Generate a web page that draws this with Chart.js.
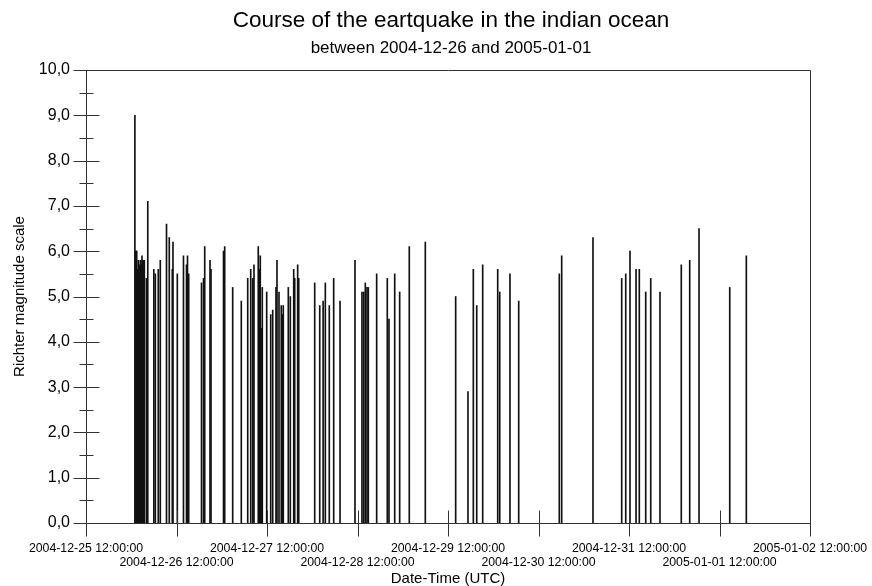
<!DOCTYPE html>
<html><head><meta charset="utf-8">
<script src="https://cdn.jsdelivr.net/npm/chart.js@4"></script>
<style>html,body{margin:0;padding:0;background:#fff}canvas{display:block}</style>
</head><body>
<canvas id="c" width="872" height="586"></canvas>
<script>
const chartTitle = 'Course of the eartquake in the indian ocean';
const chartSubtitle = 'between 2004-12-26 and 2005-01-01';
const xAxisTitle = 'Date-Time (UTC)';
const yAxisTitle = 'Richter magnitude scale';
const axisStart = '2004-12-25 12:00';
const axisEnd = '2005-01-02 12:00';
const yTickValues = [0,1,2,3,4,5,6,7,8,9,10];

const quakeTimes = [
'2004-12-26 00:58','2004-12-26 01:09','2004-12-26 01:16','2004-12-26 01:27','2004-12-26 01:35',
'2004-12-26 01:44','2004-12-26 01:52','2004-12-26 02:00','2004-12-26 02:08','2004-12-26 02:16',
'2004-12-26 02:24','2004-12-26 02:38','2004-12-26 02:45','2004-12-26 02:51','2004-12-26 03:02',
'2004-12-26 03:13','2004-12-26 03:20','2004-12-26 03:28',
'2004-12-26 04:01','2004-12-26 04:23','2004-12-26 05:59',
'2004-12-26 06:23','2004-12-26 07:10','2004-12-26 07:42','2004-12-26 09:21','2004-12-26 10:05',
'2004-12-26 10:53','2004-12-26 11:04','2004-12-26 12:13','2004-12-26 13:51','2004-12-26 14:39',
'2004-12-26 14:55','2004-12-26 15:14','2004-12-26 18:38','2004-12-26 19:10','2004-12-26 19:29',
'2004-12-26 20:53','2004-12-26 21:09','2004-12-27 00:28','2004-12-27 00:47','2004-12-27 02:54',
'2004-12-27 05:11','2004-12-27 06:53','2004-12-27 07:41','2004-12-27 08:13','2004-12-27 08:33',
'2004-12-27 09:41','2004-12-27 09:58','2004-12-27 10:13','2004-12-27 10:29','2004-12-27 10:45',
'2004-12-27 11:55','2004-12-27 12:59','2004-12-27 13:31','2004-12-27 14:23','2004-12-27 14:39',
'2004-12-27 15:11','2004-12-27 15:47','2004-12-27 16:04','2004-12-27 16:19','2004-12-27 17:39',
'2004-12-27 18:11','2004-12-27 19:05','2004-12-27 19:21','2004-12-27 20:08','2004-12-27 20:25',
'2004-12-28 00:39','2004-12-28 01:59','2004-12-28 02:53','2004-12-28 03:28','2004-12-28 04:31',
'2004-12-28 05:41','2004-12-28 07:22','2004-12-28 11:20','2004-12-28 13:11','2004-12-28 13:38',
'2004-12-28 14:04','2004-12-28 14:31','2004-12-28 14:52','2004-12-28 17:05','2004-12-28 19:54',
'2004-12-28 20:21','2004-12-28 21:52','2004-12-28 23:11','2004-12-29 01:44','2004-12-29 05:59',
'2004-12-29 14:02','2004-12-29 17:18','2004-12-29 18:43','2004-12-29 19:37','2004-12-29 21:12',
'2004-12-30 01:11','2004-12-30 01:43','2004-12-30 04:26','2004-12-30 06:45','2004-12-30 17:31',
'2004-12-30 18:09','2004-12-31 02:27','2004-12-31 10:04','2004-12-31 11:08','2004-12-31 12:16',
'2004-12-31 13:52','2004-12-31 14:44','2004-12-31 16:26','2004-12-31 17:46','2004-12-31 20:13',
'2005-01-01 01:52','2005-01-01 04:06','2005-01-01 06:34','2005-01-01 14:43','2005-01-01 19:07'
];
const magnitudes = [
9.0,6.0,6.0,6.0,5.3,
5.6,5.8,5.6,5.7,5.6,
5.8,5.7,5.6,5.9,5.8,
5.8,5.6,5.8,
5.4,7.1,5.6,
5.5,5.6,5.8,6.6,6.3,
5.6,6.2,5.5,5.9,5.7,
5.9,5.5,5.3,5.4,6.1,
5.8,5.6,6.0,6.1,5.2,
4.9,5.4,5.6,5.4,5.7,
6.1,5.6,5.9,4.3,5.2,
5.1,4.6,4.7,5.2,5.8,
5.1,4.8,4.6,4.8,5.2,
5.0,5.6,5.4,5.7,5.4,
5.3,4.8,4.9,5.3,4.8,
5.4,4.9,5.8,5.1,5.1,
5.3,5.2,5.2,5.5,5.4,
4.5,5.5,5.1,6.1,6.2,
5.0,2.9,5.6,4.8,5.7,
5.6,5.1,5.5,4.9,5.5,
5.9,6.3,5.4,5.5,6.0,
5.6,5.6,5.1,5.4,5.1,
5.7,5.8,6.5,5.2,5.9
];

function parseUTC(s){
  const [d,t] = s.split(' ');
  const [Y,M,D] = d.split('-').map(Number);
  const [h,m] = t.split(':').map(Number);
  return Date.UTC(Y, M-1, D, h, m);
}
const origin = parseUTC(axisStart);
const toHours = s => (parseUTC(s) - origin) / 3600000;
const pad2 = n => String(n).padStart(2,'0');
function fmtHours(h){
  const d = new Date(origin + h*3600000);
  return d.getUTCFullYear()+'-'+pad2(d.getUTCMonth()+1)+'-'+pad2(d.getUTCDate())+' '+
         pad2(d.getUTCHours())+':'+pad2(d.getUTCMinutes())+':'+pad2(d.getUTCSeconds());
}

const points = quakeTimes.map((t,i)=>({x: toHours(t), y: magnitudes[i]}));
const FONT = "'Liberation Sans', Helvetica, Arial, sans-serif";

const framePlugin = {
  id: 'frame',
  afterDraw(chart){
    const {ctx, chartArea:a, scales:{x, y}} = chart;
    const L = Math.round(a.left)+0.5, R = Math.round(a.right)+0.5;
    const T = Math.round(a.top)+0.5, B = Math.round(a.bottom)+0.5;
    ctx.save();
    ctx.strokeStyle = '#333';
    ctx.lineWidth = 1;
    ctx.beginPath();
    ctx.moveTo(L,T); ctx.lineTo(R,T); ctx.lineTo(R,B); ctx.lineTo(L,B); ctx.closePath();
    const yt = y.ticks.map(t=>t.value);
    yt.forEach((v,i)=>{
      const py = Math.round(y.getPixelForValue(v))+0.5;
      ctx.moveTo(L-13,py); ctx.lineTo(L+13,py);
      if (i < yt.length-1){
        const pm = Math.round(y.getPixelForValue((v+yt[i+1])/2))+0.5;
        ctx.moveTo(L-7,pm); ctx.lineTo(L+7,pm);
      }
    });
    x.ticks.forEach(t=>{
      const px = Math.round(x.getPixelForValue(t.value))+0.5;
      ctx.moveTo(px,B-13); ctx.lineTo(px,B+13);
    });
    ctx.stroke();
    // titles
    const cx = (a.left + a.right)/2 + 3;
    ctx.fillStyle = '#000';
    ctx.textAlign = 'center';
    ctx.textBaseline = 'middle';
    ctx.font = '22.5px ' + FONT;
    ctx.fillText(chartTitle, cx, 21);
    ctx.font = '17px ' + FONT;
    ctx.fillText(chartSubtitle, cx, 48);
    ctx.restore();
  }
};

new Chart(document.getElementById('c'), {
  type: 'bar',
  data: { datasets: [{
    data: points,
    backgroundColor: '#111',
    borderWidth: 0,
    barThickness: 1
  }]},
  options: {
    responsive: false,
    devicePixelRatio: 1,
    animation: false,
    events: [],
    layout: { padding: { top: 70, right: 62, left: 0, bottom: 0 } },
    plugins: { legend: {display:false}, tooltip: {enabled:false}, title:{display:false} },
    scales: {
      x: {
        type: 'linear',
        offset: false,
        min: toHours(axisStart),
        max: toHours(axisEnd),
        grid: { display: false, drawTicks: false },
        border: { display: false },
        ticks: {
          stepSize: 24,
          autoSkip: false,
          maxRotation: 0, minRotation: 0,
          padding: 18,
          color: '#000',
          font: { family: FONT, size: 12.3, lineHeight: 1.18 },
          callback: (v, i) => i % 2 === 0 ? fmtHours(v) : ['', fmtHours(v)]
        },
        title: { display: true, text: xAxisTitle, color: '#000',
                 font: { family: FONT, size: 15, lineHeight: 1 }, padding: 0 },
        afterFit: s => { s.height = 63; s.paddingLeft = 0; s.paddingRight = 0; }
      },
      y: {
        min: 0, max: 10,
        grid: { display: false, drawTicks: false },
        border: { display: false },
        afterBuildTicks: s => { s.ticks = yTickValues.map(v=>({value:v})); },
        ticks: {
          padding: 16,
          color: '#000',
          font: { family: FONT, size: 16 },
          callback: v => Number(v).toFixed(1).replace('.', ',')
        },
        title: { display: true, text: yAxisTitle, color: '#000',
                 font: { family: FONT, size: 15, lineHeight: 1.2 }, padding: { top: 11, bottom: 0 } },
        afterFit: s => { s.width = 86; s.paddingTop = 0; s.paddingBottom = 0; }
      }
    }
  },
  plugins: [framePlugin]
});
</script>
</body></html>
